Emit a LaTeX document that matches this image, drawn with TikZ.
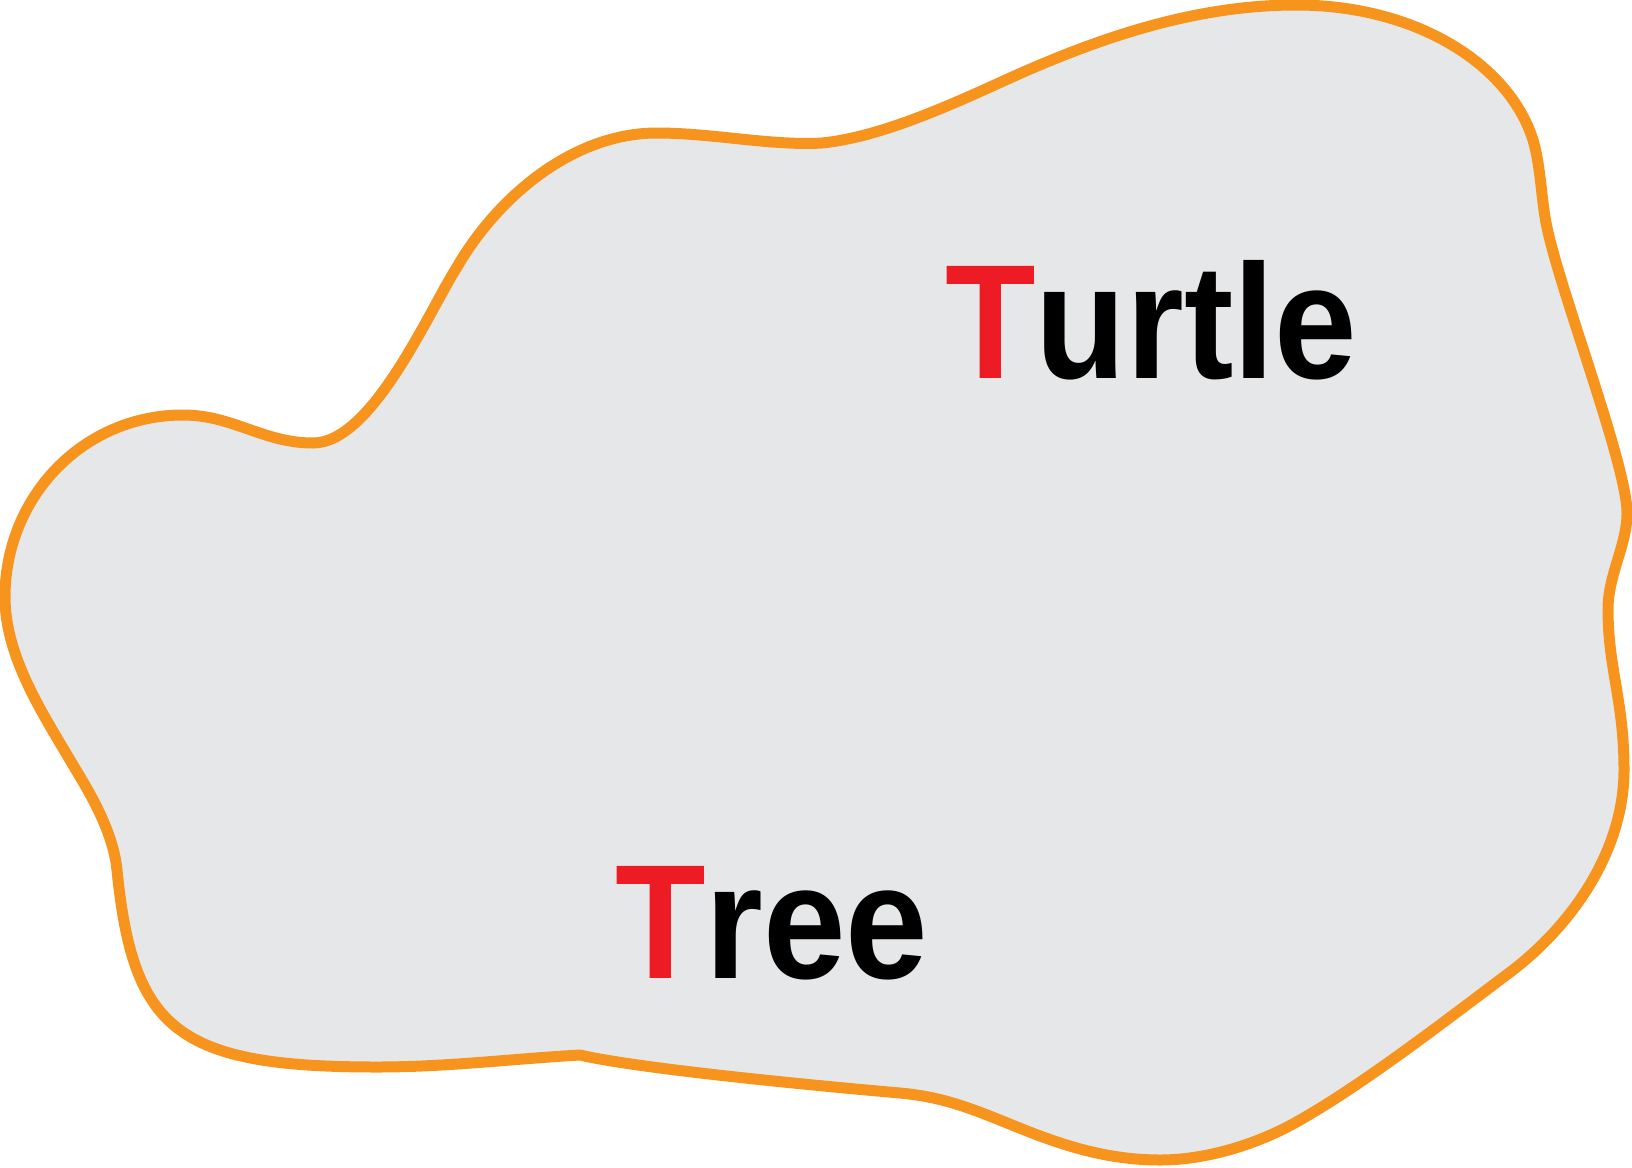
\documentclass[tikz,border=0pt]{standalone}
\usepackage{fontspec}
\setmainfont{Liberation Sans}
\definecolor{blobedge}{HTML}{F7941D}
\definecolor{blobfill}{HTML}{E6E7E8}
\definecolor{tred}{HTML}{ED1C24}
\newfontface\wordfont[FakeStretch=0.91]{Liberation Sans Bold}
\tikzset{
  blob/.style={draw=blobedge,fill=blobfill,line width=11pt,line join=round},
  word/.style={anchor=base west,inner sep=0pt,font=\wordfont\fontsize{163}{190}\selectfont}
}
\begin{document}
\begin{tikzpicture}[x=1pt,y=-1pt]
\useasboundingbox (0,0) rectangle (1632,1167);
\draw[blob] (5,597)
  .. controls (5,497) and (83,415) .. (183,415)
  .. controls (233,415) and (263,443) .. (313,443)
  .. controls (372,443) and (428,313) .. (457,267)
  .. controls (497,198) and (572,133) .. (657,133)
  .. controls (712,133) and (772,146) .. (822,143)
  .. controls (882,137) and (955,103) .. (1010,78)
  .. controls (1101,37) and (1196,5) .. (1296,5)
  .. controls (1416,5) and (1509,64) .. (1533,140)
  .. controls (1540,164) and (1541,192) .. (1545,217)
  .. controls (1554,276) and (1627,463) .. (1627,513)
  .. controls (1627,545) and (1608,575) .. (1608,609)
  .. controls (1608,669) and (1624,700) .. (1624,770)
  .. controls (1624,850) and (1573,925) .. (1509,973)
  .. controls (1445,1021) and (1365,1083) .. (1300,1120)
  .. controls (1257,1145) and (1205,1160) .. (1160,1160)
  .. controls (1105,1160) and (1059,1144) .. (1017,1127)
  .. controls (975,1110) and (945,1097) .. (900,1093)
  .. controls (820,1086) and (640,1069) .. (580,1055)
  .. controls (510,1059) and (447,1067) .. (377,1067)
  .. controls (177,1067) and (133,1030) .. (117,870)
  .. controls (113,830) and (88,790) .. (73,765)
  .. controls (43,714) and (5,657) .. cycle;
\node[word] (turtle) at (945,378) {\textcolor{tred}{T}urtle};
\node[word] (tree) at (615,978) {\textcolor{tred}{T}ree};
\end{tikzpicture}
\end{document}
